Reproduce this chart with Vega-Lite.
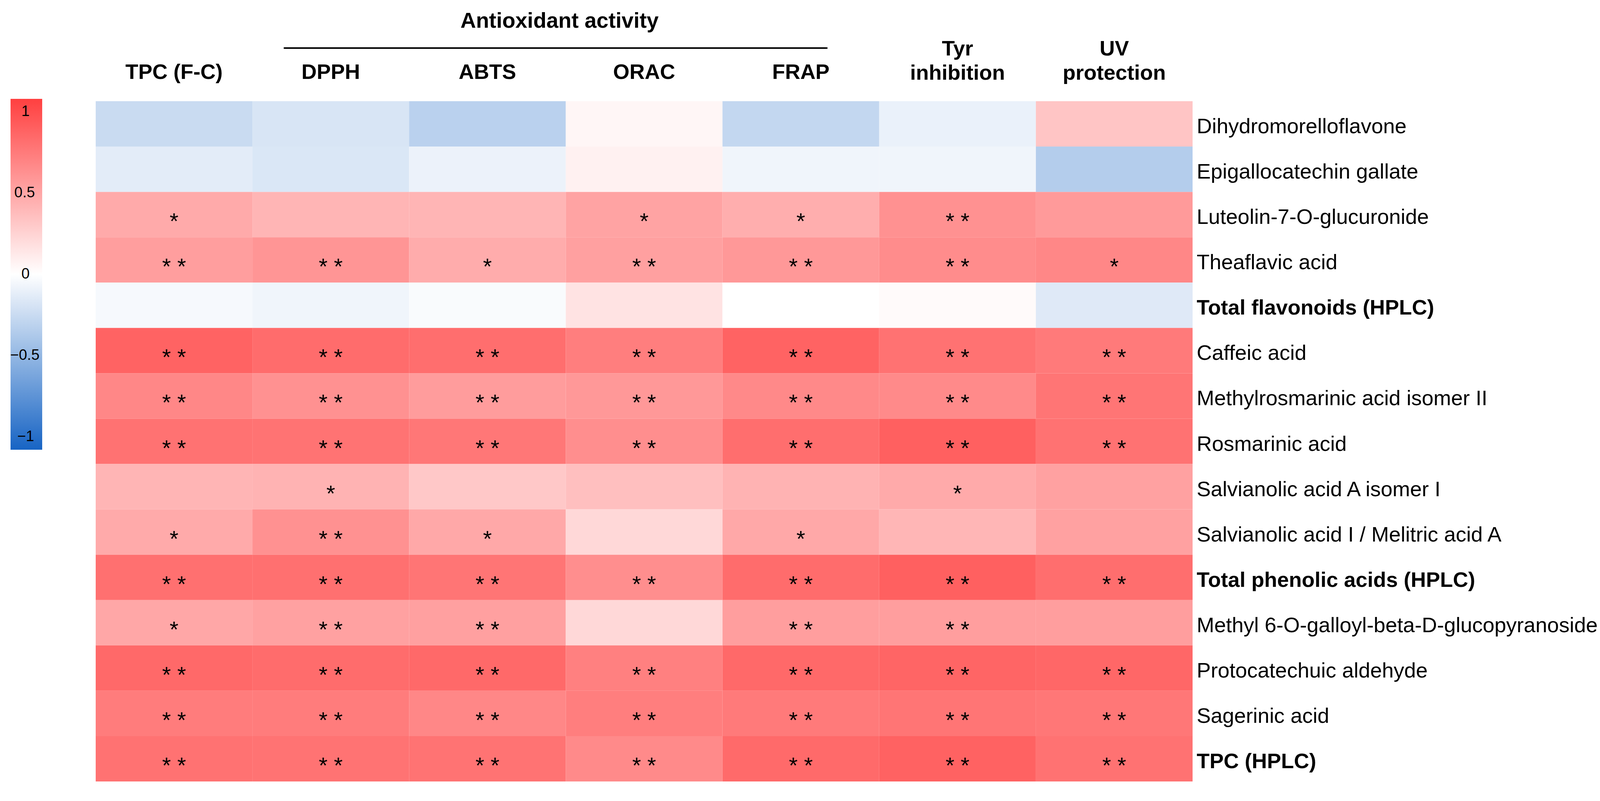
{
  "$schema": "https://vega.github.io/schema/vega-lite/v6.json",
  "autosize": {"type": "none"},
  "padding": {"left": 245, "top": 259, "right": 1077, "bottom": 50},
  "width": 2808,
  "height": 1741,
  "background": "white",
  "config": {
    "view": {"stroke": null},
    "font": "Liberation Sans",
    "legend": {"padding": 0}
  },
  "datasets": {
    "cells": [
      {"compound": "Dihydromorelloflavone", "assay": "TPC (F-C)", "r": -0.25, "sig": ""},
      {"compound": "Dihydromorelloflavone", "assay": "DPPH", "r": -0.18, "sig": ""},
      {"compound": "Dihydromorelloflavone", "assay": "ABTS", "r": -0.32, "sig": ""},
      {"compound": "Dihydromorelloflavone", "assay": "ORAC", "r": 0.05, "sig": ""},
      {"compound": "Dihydromorelloflavone", "assay": "FRAP", "r": -0.28, "sig": ""},
      {"compound": "Dihydromorelloflavone", "assay": "Tyr inhibition", "r": -0.1, "sig": ""},
      {"compound": "Dihydromorelloflavone", "assay": "UV protection", "r": 0.33, "sig": ""},
      {"compound": "Epigallocatechin gallate", "assay": "TPC (F-C)", "r": -0.13, "sig": ""},
      {"compound": "Epigallocatechin gallate", "assay": "DPPH", "r": -0.17, "sig": ""},
      {"compound": "Epigallocatechin gallate", "assay": "ABTS", "r": -0.09, "sig": ""},
      {"compound": "Epigallocatechin gallate", "assay": "ORAC", "r": 0.08, "sig": ""},
      {"compound": "Epigallocatechin gallate", "assay": "FRAP", "r": -0.07, "sig": ""},
      {"compound": "Epigallocatechin gallate", "assay": "Tyr inhibition", "r": -0.07, "sig": ""},
      {"compound": "Epigallocatechin gallate", "assay": "UV protection", "r": -0.35, "sig": ""},
      {"compound": "Luteolin-7-O-glucuronide", "assay": "TPC (F-C)", "r": 0.48, "sig": "*"},
      {"compound": "Luteolin-7-O-glucuronide", "assay": "DPPH", "r": 0.42, "sig": ""},
      {"compound": "Luteolin-7-O-glucuronide", "assay": "ABTS", "r": 0.42, "sig": ""},
      {"compound": "Luteolin-7-O-glucuronide", "assay": "ORAC", "r": 0.52, "sig": "*"},
      {"compound": "Luteolin-7-O-glucuronide", "assay": "FRAP", "r": 0.46, "sig": "*"},
      {"compound": "Luteolin-7-O-glucuronide", "assay": "Tyr inhibition", "r": 0.62, "sig": "* *"},
      {"compound": "Luteolin-7-O-glucuronide", "assay": "UV protection", "r": 0.57, "sig": ""},
      {"compound": "Theaflavic acid", "assay": "TPC (F-C)", "r": 0.55, "sig": "* *"},
      {"compound": "Theaflavic acid", "assay": "DPPH", "r": 0.6, "sig": "* *"},
      {"compound": "Theaflavic acid", "assay": "ABTS", "r": 0.47, "sig": "*"},
      {"compound": "Theaflavic acid", "assay": "ORAC", "r": 0.54, "sig": "* *"},
      {"compound": "Theaflavic acid", "assay": "FRAP", "r": 0.58, "sig": "* *"},
      {"compound": "Theaflavic acid", "assay": "Tyr inhibition", "r": 0.65, "sig": "* *"},
      {"compound": "Theaflavic acid", "assay": "UV protection", "r": 0.68, "sig": "*"},
      {"compound": "Total flavonoids (HPLC)", "assay": "TPC (F-C)", "r": -0.04, "sig": ""},
      {"compound": "Total flavonoids (HPLC)", "assay": "DPPH", "r": -0.07, "sig": ""},
      {"compound": "Total flavonoids (HPLC)", "assay": "ABTS", "r": -0.03, "sig": ""},
      {"compound": "Total flavonoids (HPLC)", "assay": "ORAC", "r": 0.16, "sig": ""},
      {"compound": "Total flavonoids (HPLC)", "assay": "FRAP", "r": 0.0, "sig": ""},
      {"compound": "Total flavonoids (HPLC)", "assay": "Tyr inhibition", "r": 0.03, "sig": ""},
      {"compound": "Total flavonoids (HPLC)", "assay": "UV protection", "r": -0.15, "sig": ""},
      {"compound": "Caffeic acid", "assay": "TPC (F-C)", "r": 0.88, "sig": "* *"},
      {"compound": "Caffeic acid", "assay": "DPPH", "r": 0.83, "sig": "* *"},
      {"compound": "Caffeic acid", "assay": "ABTS", "r": 0.82, "sig": "* *"},
      {"compound": "Caffeic acid", "assay": "ORAC", "r": 0.73, "sig": "* *"},
      {"compound": "Caffeic acid", "assay": "FRAP", "r": 0.88, "sig": "* *"},
      {"compound": "Caffeic acid", "assay": "Tyr inhibition", "r": 0.8, "sig": "* *"},
      {"compound": "Caffeic acid", "assay": "UV protection", "r": 0.75, "sig": "* *"},
      {"compound": "Methylrosmarinic acid isomer II", "assay": "TPC (F-C)", "r": 0.68, "sig": "* *"},
      {"compound": "Methylrosmarinic acid isomer II", "assay": "DPPH", "r": 0.62, "sig": "* *"},
      {"compound": "Methylrosmarinic acid isomer II", "assay": "ABTS", "r": 0.56, "sig": "* *"},
      {"compound": "Methylrosmarinic acid isomer II", "assay": "ORAC", "r": 0.58, "sig": "* *"},
      {"compound": "Methylrosmarinic acid isomer II", "assay": "FRAP", "r": 0.67, "sig": "* *"},
      {"compound": "Methylrosmarinic acid isomer II", "assay": "Tyr inhibition", "r": 0.66, "sig": "* *"},
      {"compound": "Methylrosmarinic acid isomer II", "assay": "UV protection", "r": 0.78, "sig": "* *"},
      {"compound": "Rosmarinic acid", "assay": "TPC (F-C)", "r": 0.8, "sig": "* *"},
      {"compound": "Rosmarinic acid", "assay": "DPPH", "r": 0.79, "sig": "* *"},
      {"compound": "Rosmarinic acid", "assay": "ABTS", "r": 0.77, "sig": "* *"},
      {"compound": "Rosmarinic acid", "assay": "ORAC", "r": 0.64, "sig": "* *"},
      {"compound": "Rosmarinic acid", "assay": "FRAP", "r": 0.82, "sig": "* *"},
      {"compound": "Rosmarinic acid", "assay": "Tyr inhibition", "r": 0.9, "sig": "* *"},
      {"compound": "Rosmarinic acid", "assay": "UV protection", "r": 0.8, "sig": "* *"},
      {"compound": "Salvianolic acid A isomer I", "assay": "TPC (F-C)", "r": 0.42, "sig": ""},
      {"compound": "Salvianolic acid A isomer I", "assay": "DPPH", "r": 0.43, "sig": "*"},
      {"compound": "Salvianolic acid A isomer I", "assay": "ABTS", "r": 0.31, "sig": ""},
      {"compound": "Salvianolic acid A isomer I", "assay": "ORAC", "r": 0.36, "sig": ""},
      {"compound": "Salvianolic acid A isomer I", "assay": "FRAP", "r": 0.43, "sig": ""},
      {"compound": "Salvianolic acid A isomer I", "assay": "Tyr inhibition", "r": 0.48, "sig": "*"},
      {"compound": "Salvianolic acid A isomer I", "assay": "UV protection", "r": 0.53, "sig": ""},
      {"compound": "Salvianolic acid I / Melitric acid A", "assay": "TPC (F-C)", "r": 0.48, "sig": "*"},
      {"compound": "Salvianolic acid I / Melitric acid A", "assay": "DPPH", "r": 0.62, "sig": "* *"},
      {"compound": "Salvianolic acid I / Melitric acid A", "assay": "ABTS", "r": 0.49, "sig": "*"},
      {"compound": "Salvianolic acid I / Melitric acid A", "assay": "ORAC", "r": 0.22, "sig": ""},
      {"compound": "Salvianolic acid I / Melitric acid A", "assay": "FRAP", "r": 0.49, "sig": "*"},
      {"compound": "Salvianolic acid I / Melitric acid A", "assay": "Tyr inhibition", "r": 0.41, "sig": ""},
      {"compound": "Salvianolic acid I / Melitric acid A", "assay": "UV protection", "r": 0.53, "sig": ""},
      {"compound": "Total phenolic acids (HPLC)", "assay": "TPC (F-C)", "r": 0.81, "sig": "* *"},
      {"compound": "Total phenolic acids (HPLC)", "assay": "DPPH", "r": 0.81, "sig": "* *"},
      {"compound": "Total phenolic acids (HPLC)", "assay": "ABTS", "r": 0.78, "sig": "* *"},
      {"compound": "Total phenolic acids (HPLC)", "assay": "ORAC", "r": 0.64, "sig": "* *"},
      {"compound": "Total phenolic acids (HPLC)", "assay": "FRAP", "r": 0.83, "sig": "* *"},
      {"compound": "Total phenolic acids (HPLC)", "assay": "Tyr inhibition", "r": 0.9, "sig": "* *"},
      {"compound": "Total phenolic acids (HPLC)", "assay": "UV protection", "r": 0.82, "sig": "* *"},
      {"compound": "Methyl 6-O-galloyl-beta-D-glucopyranoside", "assay": "TPC (F-C)", "r": 0.5, "sig": "*"},
      {"compound": "Methyl 6-O-galloyl-beta-D-glucopyranoside", "assay": "DPPH", "r": 0.53, "sig": "* *"},
      {"compound": "Methyl 6-O-galloyl-beta-D-glucopyranoside", "assay": "ABTS", "r": 0.54, "sig": "* *"},
      {"compound": "Methyl 6-O-galloyl-beta-D-glucopyranoside", "assay": "ORAC", "r": 0.22, "sig": ""},
      {"compound": "Methyl 6-O-galloyl-beta-D-glucopyranoside", "assay": "FRAP", "r": 0.55, "sig": "* *"},
      {"compound": "Methyl 6-O-galloyl-beta-D-glucopyranoside", "assay": "Tyr inhibition", "r": 0.55, "sig": "* *"},
      {"compound": "Methyl 6-O-galloyl-beta-D-glucopyranoside", "assay": "UV protection", "r": 0.55, "sig": ""},
      {"compound": "Protocatechuic aldehyde", "assay": "TPC (F-C)", "r": 0.85, "sig": "* *"},
      {"compound": "Protocatechuic aldehyde", "assay": "DPPH", "r": 0.83, "sig": "* *"},
      {"compound": "Protocatechuic aldehyde", "assay": "ABTS", "r": 0.85, "sig": "* *"},
      {"compound": "Protocatechuic aldehyde", "assay": "ORAC", "r": 0.72, "sig": "* *"},
      {"compound": "Protocatechuic aldehyde", "assay": "FRAP", "r": 0.85, "sig": "* *"},
      {"compound": "Protocatechuic aldehyde", "assay": "Tyr inhibition", "r": 0.87, "sig": "* *"},
      {"compound": "Protocatechuic aldehyde", "assay": "UV protection", "r": 0.86, "sig": "* *"},
      {"compound": "Sagerinic acid", "assay": "TPC (F-C)", "r": 0.74, "sig": "* *"},
      {"compound": "Sagerinic acid", "assay": "DPPH", "r": 0.74, "sig": "* *"},
      {"compound": "Sagerinic acid", "assay": "ABTS", "r": 0.68, "sig": "* *"},
      {"compound": "Sagerinic acid", "assay": "ORAC", "r": 0.73, "sig": "* *"},
      {"compound": "Sagerinic acid", "assay": "FRAP", "r": 0.75, "sig": "* *"},
      {"compound": "Sagerinic acid", "assay": "Tyr inhibition", "r": 0.78, "sig": "* *"},
      {"compound": "Sagerinic acid", "assay": "UV protection", "r": 0.77, "sig": "* *"},
      {"compound": "TPC (HPLC)", "assay": "TPC (F-C)", "r": 0.8, "sig": "* *"},
      {"compound": "TPC (HPLC)", "assay": "DPPH", "r": 0.79, "sig": "* *"},
      {"compound": "TPC (HPLC)", "assay": "ABTS", "r": 0.79, "sig": "* *"},
      {"compound": "TPC (HPLC)", "assay": "ORAC", "r": 0.66, "sig": "* *"},
      {"compound": "TPC (HPLC)", "assay": "FRAP", "r": 0.84, "sig": "* *"},
      {"compound": "TPC (HPLC)", "assay": "Tyr inhibition", "r": 0.89, "sig": "* *"},
      {"compound": "TPC (HPLC)", "assay": "UV protection", "r": 0.8, "sig": "* *"}
    ],
    "groups": [
      {"label": "Antioxidant activity", "from": "DPPH", "to": "FRAP", "mid": "ORAC"}
    ]
  },
  "layer": [
    {
      "data": {"name": "cells"},
      "mark": {"type": "rect", "strokeWidth": 0},
      "encoding": {
        "x": {
          "field": "assay", "type": "nominal",
          "scale": {"domain": ["TPC (F-C)", "DPPH", "ABTS", "ORAC", "FRAP", "Tyr inhibition", "UV protection"], "paddingInner": 0, "paddingOuter": 0},
          "axis": {
            "orient": "top", "title": null, "domain": false, "ticks": false, "tickSize": 0,
            "labelAngle": 0, "labelFont": "Liberation Sans", "labelFontSize": 54,
            "labelFontWeight": "bold", "labelColor": "black", "labelLineHeight": 62, "labelLimit": 0,
            "labelPadding": {"condition": {"test": "datum.value == 'Tyr inhibition' || datum.value == 'UV protection'", "value": 107}, "value": 47},
            "labelExpr": "datum.value == 'Tyr inhibition' ? ['Tyr', 'inhibition'] : datum.value == 'UV protection' ? ['UV', 'protection'] : datum.label"
          }
        },
        "y": {
          "field": "compound", "type": "nominal",
          "scale": {"domain": ["Dihydromorelloflavone", "Epigallocatechin gallate", "Luteolin-7-O-glucuronide", "Theaflavic acid", "Total flavonoids (HPLC)", "Caffeic acid", "Methylrosmarinic acid isomer II", "Rosmarinic acid", "Salvianolic acid A isomer I", "Salvianolic acid I / Melitric acid A", "Total phenolic acids (HPLC)", "Methyl 6-O-galloyl-beta-D-glucopyranoside", "Protocatechuic aldehyde", "Sagerinic acid", "TPC (HPLC)"], "paddingInner": 0, "paddingOuter": 0},
          "axis": {
            "orient": "right", "title": null, "domain": false, "ticks": false, "tickSize": 0,
            "labelPadding": 10, "labelFont": "Liberation Sans", "labelFontSize": 54, "labelColor": "black",
            "labelLimit": 0, "labelBaseline": "middle", "labelOffset": 8,
            "labelFontWeight": {"condition": {"test": "indexof(['Total flavonoids (HPLC)', 'Total phenolic acids (HPLC)', 'TPC (HPLC)'], datum.value) >= 0", "value": "bold"}, "value": "normal"}
          }
        },
        "color": {
          "field": "r", "type": "quantitative",
          "scale": {"domain": [-1.08, 0, 1.08], "range": ["#1764C4", "#FFFFFF", "#FF4040"], "interpolate": "rgb"},
          "legend": {
            "orient": "none", "legendX": -218, "legendY": -6, "direction": "vertical", "title": null,
            "values": [1, 0.5, 0, -0.5, -1], "format": "~g", "gradientLength": 898, "gradientThickness": 81,
            "gradientStrokeWidth": 0, "labelFontSize": 38, "labelFont": "Liberation Sans", "labelColor": "black",
            "labelOffset": -82, "labelOverlap": false, "padding": 0,
            "labelExpr": "datum.value == 1 || datum.value == 0 ? '\u200b\u00a0\u00a0\u2009' + datum.label : datum.value == 0.5 ? '\u200b\u00a0' + datum.label : datum.value == -1 ? '\u200b\u00a0\u2009' + datum.label : datum.label"
          }
        }
      }
    },
    {
      "data": {"name": "cells"},
      "mark": {"type": "text", "fontSize": 58, "font": "Liberation Sans", "color": "black", "baseline": "middle", "align": "center", "dy": 20},
      "encoding": {
        "x": {"field": "assay", "type": "nominal"},
        "y": {"field": "compound", "type": "nominal"},
        "text": {"field": "sig"}
      }
    },
    {
      "data": {"name": "groups"},
      "mark": {"type": "rule", "color": "black", "strokeWidth": 4},
      "encoding": {
        "x": {"field": "from", "type": "nominal", "bandPosition": 0.2},
        "x2": {"field": "to", "bandPosition": 0.67},
        "y": {"value": -136}
      }
    },
    {
      "data": {"name": "groups"},
      "mark": {"type": "text", "fontSize": 55, "fontWeight": "bold", "font": "Liberation Sans", "color": "black", "baseline": "alphabetic", "align": "center", "dx": -16},
      "encoding": {
        "x": {"field": "mid", "type": "nominal", "bandPosition": 0},
        "y": {"value": -188},
        "text": {"field": "label"}
      }
    }
  ]
}
